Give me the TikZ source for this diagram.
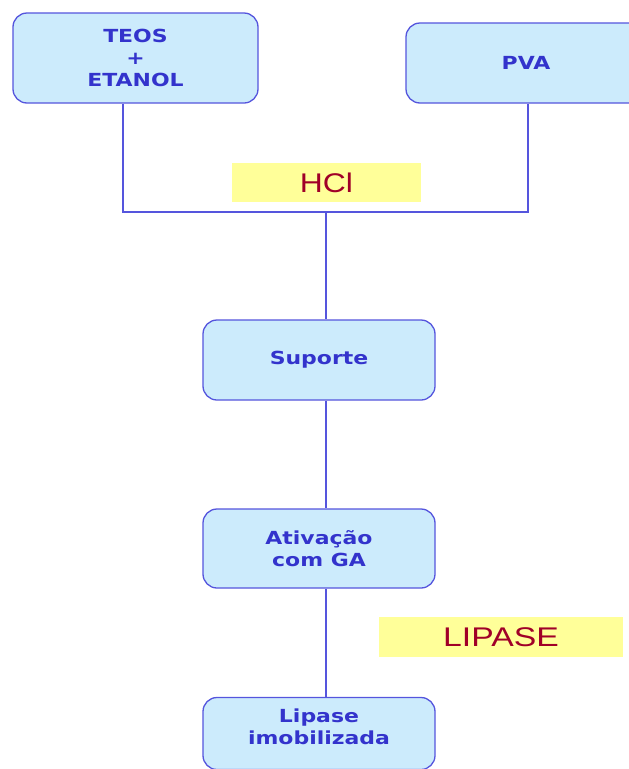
\documentclass[tikz,border=0pt]{standalone}
\usepackage{fontspec}
\usepackage{graphicx}
\setmainfont{DejaVu Sans}[FakeStretch=1.22]
\newfontfamily\arialfont{Liberation Sans}
\definecolor{boxfill}{HTML}{CCEBFC}
\definecolor{boxline}{HTML}{5555DD}
\definecolor{txtblue}{HTML}{3333CC}
\definecolor{hclfill}{HTML}{FFFF99}
\definecolor{hcltxt}{HTML}{A00028}
\begin{document}
\begin{tikzpicture}[x=1pt,y=-1pt,
  stepbox/.style={draw=boxline,line width=1.3pt,fill=boxfill,rounded corners=14pt,
    inner sep=0pt,text=txtblue,font=\bfseries\fontsize{18}{22}\selectfont,align=center},
  steptext/.style={inner sep=0pt,text=txtblue,font=\bfseries\fontsize{18}{22}\selectfont,align=center},
  reagent/.style={fill=hclfill,inner sep=0pt,text=hcltxt,font=\arialfont\fontsize{27}{30}\selectfont},
  link/.style={draw=boxline,line width=1.3pt}]
\useasboundingbox (0,0) rectangle (629,769);
\clip (0,0) rectangle (629,769);
\node[stepbox,minimum width=245pt,minimum height=90pt] (teos) at (135.5,58) {TEOS\\+\\ETANOL};
\node[stepbox,minimum width=240pt,minimum height=80pt] (pva) at (526,63) {PVA};
\node[reagent,minimum width=189pt,minimum height=39pt] (hcl) at (326.5,182.5) {\scalebox{1.18}[1]{HCl}};
\coordinate (jl) at (123,212);
\coordinate (jr) at (528,212);
\coordinate (jc) at (326,212);
\node[stepbox,minimum width=232pt,minimum height=80pt] (sup) at (319,360) {Suporte};
\node[stepbox,minimum width=232pt,minimum height=79pt] (ativ) at (319,548.5) {Ativação\\com GA};
\node[reagent,minimum width=244pt,minimum height=40pt] (lip) at (501,637) {\scalebox{1.25}[1]{LIPASE}};
\node[stepbox,minimum width=232pt,minimum height=72pt] (imob) at (319,733.5) {};
\node[steptext] (imobtxt) at (319,727) {Lipase\\imobilizada};
\draw[link] (teos.south -| jl) -- (jl) -- (jr) -- (pva.south -| jr);
\draw[link] (jc) -- (sup.north -| jc);
\draw[link] (sup.south -| jc) -- (ativ.north -| jc);
\draw[link] (ativ.south -| jc) -- (imob.north -| jc);
\end{tikzpicture}
\end{document}
